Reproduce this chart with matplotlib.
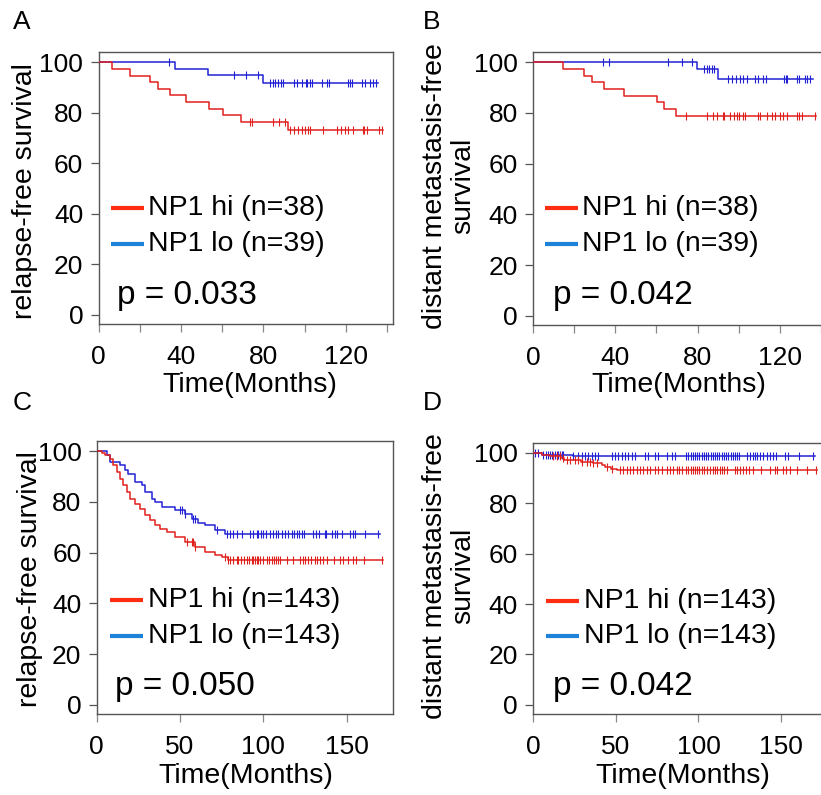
import numpy as np
import matplotlib
matplotlib.use("Agg")
import matplotlib.pyplot as plt

plt.rcParams['font.family'] = ['Liberation Sans', 'DejaVu Sans']

# ---- panel A: relapse-free survival, n=38/39 ----
a_hi_t = [6.4, 15.3, 25.0, 29.0, 34.7, 42.3, 53.6, 60.5, 69.1, 92.0]
a_hi_s = [97.4, 94.7, 92.1, 89.5, 86.8, 84.2, 81.6, 78.9, 76.3, 73.2]
a_hi_cens = [73.5, 74.6, 84.4, 87.7, 90.4, 92.9, 94.8, 96.9, 98.5, 100.1, 101.7, 102.5,
             108.7, 115.5, 117.4, 119.5, 121.1, 123.6, 128.1, 128.7, 130.3, 136.2, 137.3]
a_hi_end = 138.1
a_lo_t = [37.1, 53.3, 79.9]
a_lo_s = [97.4, 94.8, 91.7]
a_lo_cens = [34.3, 65.9, 71.5, 77.2, 83.2, 84.4, 85.7, 87.2, 88.3, 89.6, 94.8, 96.4, 98.5,
             100.6, 101.2, 102.5, 103.4, 108.2, 110.6, 111.9, 121.1, 121.9, 122.8, 127.6,
             129.2, 131.6, 132.9, 134.5]
a_lo_end = 135.4

# ---- panel B: distant metastasis-free survival, n=38/39 ----
b_hi_t = [14.7, 24.9, 28.5, 34.5, 44.2, 60.4, 63.8, 69.3]
b_hi_s = [97.4, 94.7, 92.1, 89.5, 86.8, 84.2, 81.6, 78.9]
b_hi_cens = [74.2, 84.4, 87.3, 89.6, 92.2, 92.8, 95.7, 97.7, 99.3, 100.3, 102.2, 103.0,
             109.5, 110.3, 113.6, 116.0, 117.6, 120.0, 121.7, 123.6, 128.2, 129.4, 130.6, 137.1]
b_hi_end = 137.5
b_lo_t = [79.9, 90.1]
b_lo_s = [97.4, 93.4]
b_lo_cens = [34.2, 37.1, 65.8, 72.3, 77.4, 83.1, 84.4, 85.7, 86.8, 88.0, 94.9, 96.6, 98.5,
             100.6, 102.2, 103.9, 107.9, 109.2, 111.9, 113.2, 122.0, 123.0, 123.6, 128.2,
             129.4, 132.2, 133.3, 134.6]
b_lo_end = 135.9

# ---- panel C: relapse-free survival, n=143/143 ----
c_hi_t = [3, 5, 8, 10, 12, 14, 16, 18, 20, 23, 26, 29, 32, 35, 38, 42, 47, 53, 59, 65,
          71, 75, 79]
c_hi_s = [99.2, 98.3, 97.0, 94.4, 91.8, 89.1, 86.5, 83.9, 81.3, 79.3, 77.3, 74.7, 72.7,
          70.8, 69.5, 68.2, 66.2, 64.2, 62.3, 60.3, 59.0, 58.1, 57.0]
c_hi_cens = [54, 57, 58, 59, 77, 79, 80, 82, 84, 85, 86.6, 88.4, 90.0, 91.6, 93.0, 94.0,
             95.0, 96.0, 97.0, 98.0, 99.6, 102.0, 103.6, 105.0, 106.4, 107.6, 109.0, 110.0,
             114.0, 118.0, 122.0, 123.6, 125.0, 127.0, 128.4, 131.0, 132.0, 134.0, 136.0,
             138.4, 142.4, 146.0, 147.6, 151.0, 153.6, 155.6, 160.4, 171.0]
c_hi_end = 172.0
c_lo_t = [6, 8, 14, 17, 19, 23, 27, 29, 33, 35, 39, 47, 53, 57, 61, 65, 71, 77]
c_lo_s = [98.3, 95.9, 94.4, 92.7, 91.1, 87.8, 86.5, 83.9, 81.3, 79.9, 78.0, 76.7, 75.4,
          73.4, 71.5, 70.8, 68.8, 67.5]
c_lo_cens = [50, 51.4, 53, 58, 59, 72, 78, 80, 82, 84, 87.0, 92.0, 94.0, 96.0, 97.0, 98.4,
             100.0, 101.6, 104.0, 106.0, 107.6, 109.0, 111.0, 113.0, 115.0, 117.0, 118.4,
             120.0, 121.6, 123.0, 124.4, 130.0, 131.6, 133.6, 137.0, 137.6, 141.0, 143.0,
             144.0, 147.1, 152.0, 153.7, 155.0, 161.0, 169.0]
c_lo_end = 170.0

# ---- panel D: distant metastasis-free survival, n=143/143 ----
d_hi_t = [5, 10, 17, 18.5, 29, 36, 41.5, 43.5, 47, 50.5]
d_hi_s = [99.3, 98.6, 97.9, 97.2, 96.5, 95.8, 95.1, 94.4, 93.7, 93.0]
d_hi_cens = [12.1, 14.2, 16.2, 18.2, 20.2, 22.2, 25.2, 27.2, 29.3, 32.3, 34.3, 36.3, 38.4,
             44.4, 47.5, 52.5, 54.5, 56.5, 58.5, 60.5, 62.6, 64.6, 66.6, 68.6, 70.6, 73.7,
             75.7, 77.7, 80.7, 82.7, 84.8, 86.8, 88.4, 89.8, 92.4, 93.8, 95.3, 96.5, 97.9,
             99.3, 100.5, 101.9, 103.3, 104.9, 107.0, 108.6, 110.0, 111.4, 113.0, 114.0,
             115.4, 117.1, 122.1, 123.1, 125.1, 127.1, 128.7, 130.8, 133.2, 137.6, 143.3,
             146.3, 147.7, 151.3, 153.0, 155.4, 159.4, 165.5, 171.1]
d_hi_end = 171.5
d_lo_t = [5, 24]
d_lo_s = [99.3, 98.6]
d_lo_cens = [1.0, 3.0, 6.1, 7.7, 9.1, 10.1, 11.1, 13.1, 14.2, 15.1, 16.2, 17.2, 18.2,
             24.2, 27.2, 29.3, 31.3, 33.3, 35.4, 37.3, 39.3, 47.5, 49.5, 51.5, 53.5, 55.5,
             57.5, 59.6, 61.6, 67.6, 69.6, 73.7, 75.7, 80.7, 83.8, 85.8, 92.4, 93.8, 95.3,
             96.5, 97.9, 99.3, 100.5, 101.9, 103.3, 104.5, 105.9, 107.4, 108.6, 110.0,
             111.4, 112.6, 114.0, 115.4, 116.6, 118.0, 119.5, 120.7, 122.1, 123.5, 124.7,
             129.5, 131.2, 132.8, 134.2, 135.6, 137.2, 138.9, 141.3, 143.3, 145.3, 146.9,
             152.4, 154.4, 161.0, 169.5]
d_lo_end = 170.5

labels_38 = ['NP1 hi (n=38)', 'NP1 lo (n=39)']
labels_143 = ['NP1 hi (n=143)', 'NP1 lo (n=143)']
pvals = ['p = 0.033', 'p = 0.042', 'p = 0.050', 'p = 0.042']

RED = '#e0201c'
BLUE = '#2222d4'
LEG_RED = '#ff2d12'
LEG_BLUE = '#1e82d8'
GREY = '#555555'


def km_curve(ax, times, surv, cens, end, color):
    t = np.array([0] + times + [end])
    s = np.array([100] + surv + [surv[-1]])
    ax.step(t, s, where='post', color=color, lw=1.1, zorder=3)
    c = np.array(cens)
    idx = np.searchsorted(t, c, side='right') - 1
    ax.plot(c, s[idx], ls='none', marker='|', ms=6, mew=0.8, color=color, zorder=3)


def style_axes(ax, xmax, xticks, xlabels):
    ax.set_xlim(0, xmax)
    ax.set_ylim(-3.6, 104)
    for sp in ax.spines.values():
        sp.set_color(GREY)
        sp.set_linewidth(1.0)
    ax.set_yticks([0, 20, 40, 60, 80, 100])
    ax.set_xticks(xticks)
    ax.set_xticklabels(xlabels)
    ax.tick_params(axis='y', direction='out', length=6, width=0.9, color=GREY,
                   labelsize=19, pad=5)
    ax.tick_params(axis='x', direction='out', length=6, width=0.9, color='#888888',
                   labelsize=19, pad=9)


def legend_block(ax, labels, lx, ly, p, py):
    ax.plot([lx[0], lx[1]], [ly[0], ly[0]], transform=ax.transAxes, color=LEG_RED, lw=3,
            solid_capstyle='butt')
    ax.plot([lx[0], lx[1]], [ly[1], ly[1]], transform=ax.transAxes, color=LEG_BLUE, lw=3,
            solid_capstyle='butt')
    ax.text(lx[2], ly[0], labels[0], transform=ax.transAxes, fontsize=20.5, va='center')
    ax.text(lx[2], ly[1], labels[1], transform=ax.transAxes, fontsize=20.5, va='center')
    ax.text(lx[3], py, p, transform=ax.transAxes, fontsize=24, va='baseline')


fig = plt.figure(figsize=(8.21, 7.95), dpi=100)
W, H = 821.0, 795.0


def axes_px(left, top, right, bottom):
    return fig.add_axes([left / W, 1 - bottom / H, (right - left) / W, (bottom - top) / H])


axA = axes_px(98.5, 52, 393, 324)
axB = axes_px(533, 52, 827, 325)
axC = axes_px(96.7, 441, 392.7, 714)
axD = axes_px(533.3, 442.7, 827, 714)

ticks40 = list(range(0, 141, 20))
lab40 = ['0', '', '40', '', '80', '', '120', '']

km_curve(axA, a_lo_t, a_lo_s, a_lo_cens, a_lo_end, BLUE)
km_curve(axA, a_hi_t, a_hi_s, a_hi_cens, a_hi_end, RED)
style_axes(axA, 142.8, ticks40, lab40)
legend_block(axA, labels_38, (0.042, 0.154, 0.168, 0.063), (0.426, 0.294), pvals[0], 0.0735)

km_curve(axB, b_lo_t, b_lo_s, b_lo_cens, b_lo_end, BLUE)
km_curve(axB, b_hi_t, b_hi_s, b_hi_cens, b_hi_end, RED)
style_axes(axB, 142.9, ticks40, lab40)
legend_block(axB, labels_38, (0.041, 0.153, 0.165, 0.067), (0.429, 0.297), pvals[1], 0.077)

km_curve(axC, c_lo_t, c_lo_s, c_lo_cens, c_lo_end, BLUE)
km_curve(axC, c_hi_t, c_hi_s, c_hi_cens, c_hi_end, RED)
style_axes(axC, 177.7, [0, 50, 100, 150], ['0', '50', '100', '150'])
legend_block(axC, labels_143, (0.045, 0.156, 0.172, 0.062), (0.418, 0.286), pvals[2], 0.0696)

km_curve(axD, d_lo_t, d_lo_s, d_lo_cens, d_lo_end, BLUE)
km_curve(axD, d_hi_t, d_hi_s, d_hi_cens, d_hi_end, RED)
style_axes(axD, 177.8, [0, 50, 100, 150], ['0', '50', '100', '150'])
legend_block(axD, labels_143, (0.043, 0.157, 0.171, 0.066), (0.417, 0.288), pvals[3], 0.070)

# axis titles
fig.text(25 / W, 1 - 191 / H, 'relapse-free survival', rotation=90, ha='center',
         va='center', fontsize=20.5)
fig.text(30 / W, 1 - 579 / H, 'relapse-free survival', rotation=90, ha='center',
         va='center', fontsize=20.5)
fig.text(449 / W, 1 - 186 / H, 'distant metastasis-free\nsurvival', rotation=90,
         ha='center', va='center', multialignment='center', fontsize=20.5, linespacing=1.15)
fig.text(449 / W, 1 - 576 / H, 'distant metastasis-free\nsurvival', rotation=90,
         ha='center', va='center', multialignment='center', fontsize=20.5, linespacing=1.15)
for xc, yc in [(249.5, 385), (679, 385), (246, 776), (682.5, 776)]:
    fig.text(xc / W, 1 - yc / H, 'Time(Months)', ha='center', va='center', fontsize=20.5)

# panel letters
for letter, xl, yl in [('A', 13, 29), ('B', 423, 29), ('C', 13, 410), ('D', 423, 410)]:
    fig.text(xl / W, 1 - yl / H, letter, ha='left', va='baseline', fontsize=19)

fig.savefig('out.png', dpi=100)
